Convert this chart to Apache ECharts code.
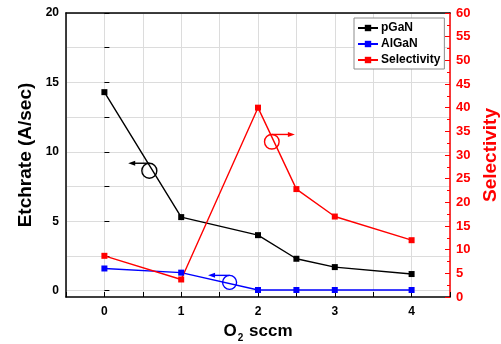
<!DOCTYPE html>
<html>
<head>
<meta charset="utf-8">
<script src="https://cdn.jsdelivr.net/npm/echarts@6/dist/echarts.min.js"></script>
<style>
html, body { margin: 0; padding: 0; background: #fff; }
#chart { width: 501px; height: 344px; }
</style>
</head>
<body>
<div id="chart"></div>
<script>
// O2 flow (sccm) and measured values
var o2Flow = [0, 1, 2, 2.5, 3, 4];
var pGaN = [14.3, 5.3, 4.0, 2.3, 1.7, 1.2];
var AlGaN = [1.6, 1.3, 0.05, 0.05, 0.05, 0.05];
var selectivity = [8.7, 3.7, 40, 22.8, 17, 12];
var seriesNames = ['pGaN', 'AlGaN', 'Selectivity'];
var seriesColors = ['#000000', '#0000ff', '#ff0000'];

// circle + arrow hints telling which axis a curve belongs to (data units)
var hints = [
    { axis: 'left', x: 0.585, y: 8.64, tipX: 0.31, r: 7.5, color: '#000000' },
    { axis: 'left', x: 1.63, y: 0.6, tipX: 1.35, r: 7, color: '#0000ff' },
    { axis: 'right', x: 2.18, y: 32.8, tipX: 2.48, r: 7.3, color: '#ff0000' }
];

var FONT = 'Liberation Sans, Arial, sans-serif';

function pairs(xs, ys) {
    return xs.map(function (x, i) { return [x, ys[i]]; });
}

var chart = echarts.init(document.getElementById('chart'));

var option = {
    backgroundColor: '#ffffff',
    animation: false,
    textStyle: { fontFamily: FONT },
    // grid 0: whole frame (x axis + right axis), grid 1: left axis whose 0 sits a bit above the frame bottom
    grid: [
        { left: 66, right: 51, top: 13, bottom: 47, containLabel: false, outerBoundsMode: 'none' },
        { left: 66, right: 51, top: 13, bottom: 53.3, containLabel: false, outerBoundsMode: 'none' }
    ],
    legend: {
        orient: 'vertical',
        left: 354,
        top: 18,
        padding: [4, 4, 3, 3],
        itemGap: 4,
        itemWidth: 20,
        itemHeight: 8,
        backgroundColor: '#ffffff',
        borderColor: '#8c8c8c',
        borderWidth: 1,
        borderRadius: 0,
        data: seriesNames,
        textStyle: { color: '#000', fontWeight: 'bold', fontSize: 12, fontFamily: FONT, padding: [0, 0, 0, -2] }
    },
    xAxis: [
        {
            type: 'value', gridIndex: 0, position: 'bottom',
            min: -0.5, max: 4.5, interval: 0.5,
            name: '{a|O}{sub|2}{a| sccm}',
            nameLocation: 'middle', nameGap: 19,
            nameTextStyle: {
                rich: {
                    a: { fontSize: 17, fontWeight: 'bold', color: '#000', fontFamily: FONT },
                    sub: { fontSize: 10, fontWeight: 'bold', color: '#000', fontFamily: FONT, padding: [13, 1, 0, 1] }
                }
            },
            axisLine: { show: true, onZero: false, lineStyle: { color: '#000', width: 1.5 } },
            axisTick: { show: true, inside: true, length: 5, lineStyle: { color: '#000', width: 1 } },
            axisLabel: {
                margin: 9, color: '#000', fontWeight: 'bold', fontSize: 12, fontFamily: FONT,
                formatter: function (v) { return Math.abs(v - Math.round(v)) < 1e-6 ? String(Math.round(v)) : ''; }
            },
            splitLine: { show: true, lineStyle: { color: '#dcdcdc', width: 1 } }
        },
        {
            type: 'value', gridIndex: 0, position: 'top',
            min: -0.5, max: 4.5,
            axisLine: { show: true, onZero: false, lineStyle: { color: '#000', width: 1.5 } },
            axisTick: { show: false }, axisLabel: { show: false }, splitLine: { show: false }
        },
        {
            type: 'value', gridIndex: 1, show: false,
            min: -0.5, max: 4.5,
            splitLine: { show: false }
        }
    ],
    yAxis: [
        {
            type: 'value', gridIndex: 0, position: 'left',
            min: 0, max: 60,
            name: 'Etchrate (A/sec)',
            nameLocation: 'middle', nameGap: 31,
            nameTextStyle: { fontSize: 19, fontWeight: 'bold', color: '#000', fontFamily: FONT },
            axisLine: { show: true, onZero: false, lineStyle: { color: '#000', width: 1.5 } },
            axisTick: { show: false }, axisLabel: { show: false }, splitLine: { show: false }
        },
        {
            type: 'value', gridIndex: 0, position: 'right',
            min: 0, max: 60, interval: 5,
            name: 'Selectivity',
            nameLocation: 'middle', nameGap: 28, nameRotate: 90,
            nameTextStyle: { fontSize: 19, fontWeight: 'bold', color: '#ff0000', fontFamily: FONT },
            axisLine: { show: true, onZero: false, lineStyle: { color: '#ff0000', width: 1.5 } },
            axisTick: { show: true, inside: true, length: 5, lineStyle: { color: '#ff0000', width: 1 } },
            minorTick: { show: true, splitNumber: 2, length: 3, lineStyle: { color: '#ff0000', width: 1 } },
            axisLabel: { margin: 6, color: '#ff0000', fontWeight: 'bold', fontSize: 13, fontFamily: FONT },
            splitLine: { show: false }
        },
        {
            type: 'value', gridIndex: 1, position: 'left',
            min: 0, max: 20, interval: 2.5,
            axisLine: { show: false },
            axisTick: { show: true, inside: true, length: 5, lineStyle: { color: '#000', width: 1 } },
            axisLabel: {
                margin: 7, color: '#000', fontWeight: 'bold', fontSize: 12, fontFamily: FONT,
                formatter: function (v) { return v % 5 === 0 ? String(v) : ''; }
            },
            splitLine: { show: true, lineStyle: { color: '#dcdcdc', width: 1 } }
        }
    ],
    series: [
        {
            name: seriesNames[0], type: 'line', xAxisIndex: 2, yAxisIndex: 2,
            data: pairs(o2Flow, pGaN),
            symbol: 'rect', symbolSize: 6,
            itemStyle: { color: seriesColors[0] },
            lineStyle: { color: seriesColors[0], width: 1.4 },
            z: 5
        },
        {
            name: seriesNames[1], type: 'line', xAxisIndex: 2, yAxisIndex: 2,
            data: pairs(o2Flow, AlGaN),
            symbol: 'rect', symbolSize: 6,
            itemStyle: { color: seriesColors[1] },
            lineStyle: { color: seriesColors[1], width: 1.4 },
            z: 5
        },
        {
            name: seriesNames[2], type: 'line', xAxisIndex: 0, yAxisIndex: 1,
            data: pairs(o2Flow, selectivity),
            symbol: 'rect', symbolSize: 6,
            itemStyle: { color: seriesColors[2] },
            lineStyle: { color: seriesColors[2], width: 1.4 },
            z: 5
        }
    ]
};

chart.setOption(option);

// circle + arrow hints, placed through the axes
var graphics = [];
hints.forEach(function (h) {
    var finder = h.axis === 'left' ? { xAxisIndex: 2, yAxisIndex: 2 } : { xAxisIndex: 0, yAxisIndex: 1 };
    var c = chart.convertToPixel(finder, [h.x, h.y]);
    var tip = chart.convertToPixel(finder, [h.tipX, h.y]);
    var ay = c[1] - h.r;
    var dir = tip[0] < c[0] ? 1 : -1;
    graphics.push({
        type: 'circle', shape: { cx: c[0], cy: c[1], r: h.r },
        style: { fill: 'none', stroke: h.color, lineWidth: 1.4 }, z: 10
    });
    graphics.push({
        type: 'line', shape: { x1: c[0], y1: ay, x2: tip[0] + dir * 5, y2: ay },
        style: { stroke: h.color, lineWidth: 1.4 }, z: 10
    });
    graphics.push({
        type: 'polygon',
        shape: { points: [[tip[0], ay], [tip[0] + dir * 7, ay - 2.5], [tip[0] + dir * 7, ay + 2.5]] },
        style: { fill: h.color }, z: 10
    });
});
chart.setOption({ graphic: graphics });
</script>
</body>
</html>
